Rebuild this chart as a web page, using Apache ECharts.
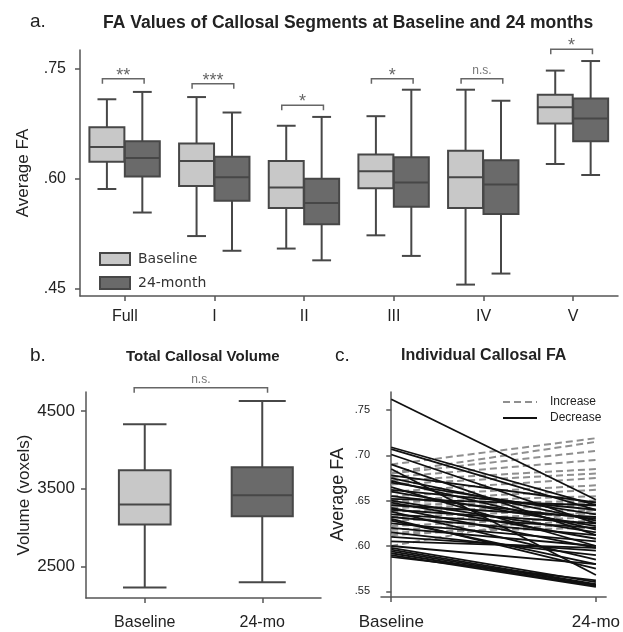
<!DOCTYPE html>
<html><head><meta charset="utf-8">
<script src="https://cdn.jsdelivr.net/npm/echarts@6/dist/echarts.min.js"></script>
<style>html,body{margin:0;padding:0;background:#fff}#c{width:623px;height:632px}</style>
</head><body><div id="c"></div>
<script>
// ---------- DATA ----------
const segmentCats = ['Full', 'I', 'II', 'III', 'IV', 'V'];
// [min, Q1, median, Q3, max]
const baselineFA = [
  [0.586, 0.623, 0.643, 0.670, 0.708],
  [0.522, 0.590, 0.624, 0.648, 0.711],
  [0.505, 0.560, 0.588, 0.624, 0.672],
  [0.523, 0.587, 0.610, 0.633, 0.685],
  [0.456, 0.560, 0.602, 0.638, 0.721],
  [0.620, 0.675, 0.697, 0.714, 0.747]
];
const month24FA = [
  [0.554, 0.603, 0.628, 0.651, 0.718],
  [0.502, 0.570, 0.602, 0.630, 0.690],
  [0.489, 0.538, 0.567, 0.600, 0.684],
  [0.495, 0.562, 0.595, 0.629, 0.721],
  [0.471, 0.552, 0.592, 0.625, 0.706],
  [0.605, 0.651, 0.682, 0.709, 0.760]
];
const segmentSigLabels = ['**', '***', '*', '*', 'n.s.', '*'];
const segmentSigHeights = [0.736, 0.729, 0.700, 0.736, 0.736, 0.776];
const faTicksA = [0.45, 0.60, 0.75];

const volumeCats = ['Baseline', '24-mo'];
const volumeBaseline = [2227, 3038, 3295, 3737, 4329];
const volume24mo = [2295, 3145, 3415, 3775, 4629];
const volumeSigLabel = 'n.s.';
const volumeSigHeight = 4800;
const volumeTicks = [2500, 3500, 4500];

const timeLabels = ['Baseline', '24-mo'];
const faTicksC = [0.55, 0.60, 0.65, 0.70, 0.75];
// [baseline, 24-month]
const increaseFA = [
  [0.690, 0.719], [0.681, 0.715], [0.680, 0.705], [0.676, 0.695], [0.672, 0.685],
  [0.668, 0.680], [0.660, 0.675], [0.655, 0.667], [0.650, 0.662], [0.648, 0.655],
  [0.645, 0.650], [0.642, 0.648], [0.638, 0.645], [0.632, 0.640], [0.628, 0.636],
  [0.622, 0.632], [0.618, 0.628], [0.612, 0.625], [0.600, 0.640], [0.615, 0.620]
];
const decreaseFA = [
  [0.762, 0.651], [0.709, 0.645], [0.707, 0.640], [0.701, 0.625], [0.690, 0.612],
  [0.685, 0.568], [0.678, 0.648], [0.675, 0.628], [0.672, 0.618], [0.670, 0.635],
  [0.665, 0.600], [0.662, 0.640], [0.660, 0.622], [0.655, 0.630], [0.652, 0.645],
  [0.650, 0.615], [0.648, 0.608], [0.645, 0.632], [0.642, 0.598], [0.640, 0.625],
  [0.638, 0.585], [0.635, 0.620], [0.632, 0.612], [0.630, 0.575], [0.628, 0.580],
  [0.625, 0.605], [0.620, 0.600], [0.615, 0.590], [0.610, 0.595], [0.605, 0.598],
  [0.600, 0.580], [0.598, 0.560], [0.596, 0.558], [0.594, 0.557], [0.592, 0.556],
  [0.590, 0.555], [0.588, 0.562]
];

// ---------- STYLE ----------
const FONT = "'Liberation Sans', Arial, sans-serif";
const AXIS = '#555';
const LIGHT = '#c8c8c8';
const DARK = '#6a6a6a';
const EDGE = '#474747';
const fmtFA = v => v.toFixed(2).replace(/^0/, '');

function boxRenderer(offsetFrac, widthFrac, capFrac, fill) {
  return function (params, api) {
    const cat = api.value(0);
    const band = api.size([1, 0])[0];
    const cx = api.coord([cat, api.value(3)])[0] + offsetFrac * band;
    const w = band * widthFrac, cap = band * capFrac;
    const yMin = api.coord([cat, api.value(1)])[1];
    const yQ1 = api.coord([cat, api.value(2)])[1];
    const yMed = api.coord([cat, api.value(3)])[1];
    const yQ3 = api.coord([cat, api.value(4)])[1];
    const yMax = api.coord([cat, api.value(5)])[1];
    const ls = { stroke: EDGE, lineWidth: 2, fill: null };
    return {
      type: 'group', children: [
        { type: 'line', shape: { x1: cx, y1: yMax, x2: cx, y2: yQ3 }, style: ls },
        { type: 'line', shape: { x1: cx, y1: yQ1, x2: cx, y2: yMin }, style: ls },
        { type: 'line', shape: { x1: cx - cap / 2, y1: yMax, x2: cx + cap / 2, y2: yMax }, style: ls },
        { type: 'line', shape: { x1: cx - cap / 2, y1: yMin, x2: cx + cap / 2, y2: yMin }, style: ls },
        { type: 'rect', shape: { x: cx - w / 2, y: yQ3, width: w, height: yQ1 - yQ3 }, style: { fill: fill, stroke: EDGE, lineWidth: 2 } },
        { type: 'line', shape: { x1: cx - w / 2, y1: yMed, x2: cx + w / 2, y2: yMed }, style: ls }
      ]
    };
  };
}

function bracketRenderer(leftFrac, rightFrac, labels) {
  return function (params, api) {
    const c0 = api.value(0), c1 = api.value(1);
    const band = api.size([1, 0])[0];
    const p0 = api.coord([c0, api.value(2)]);
    const p1 = api.coord([c1, api.value(2)]);
    const x1 = p0[0] + leftFrac * band, x2 = p1[0] + rightFrac * band, y = p0[1];
    const ls = { stroke: '#666', lineWidth: 1.5, fill: null };
    const label = labels[params.dataIndex];
    const isStar = label.indexOf('*') >= 0;
    return {
      type: 'group', children: [
        { type: 'polyline', shape: { points: [[x1, y + 5], [x1, y], [x2, y], [x2, y + 5]] }, style: ls },
        { type: 'text', style: { text: label, x: (x1 + x2) / 2, y: isStar ? y + 6 : y - 2, align: 'center', verticalAlign: 'bottom',
          fill: isStar ? '#666' : '#777', font: (isStar ? 18 : 12) + 'px ' + FONT } }
      ]
    };
  };
}

const boxData = arr => arr.map((r, i) => [i].concat(r));

const series = [
  { type: 'custom', name: 'Baseline', xAxisIndex: 0, yAxisIndex: 0, itemStyle: { color: LIGHT, borderColor: EDGE, borderWidth: 2 },
    renderItem: boxRenderer(-0.2, 0.39, 0.21, LIGHT), encode: { x: 0, y: [1, 2, 3, 4, 5] }, data: boxData(baselineFA), silent: true },
  { type: 'custom', name: '24-month', xAxisIndex: 0, yAxisIndex: 0, itemStyle: { color: DARK, borderColor: EDGE, borderWidth: 2 },
    renderItem: boxRenderer(0.195, 0.39, 0.21, DARK), encode: { x: 0, y: [1, 2, 3, 4, 5] }, data: boxData(month24FA), silent: true },
  { type: 'custom', name: 'segSig', xAxisIndex: 0, yAxisIndex: 0, clip: false, silent: true,
    renderItem: bracketRenderer(-0.25, 0.215, segmentSigLabels), encode: { x: [0, 1], y: 2 },
    data: segmentSigHeights.map((h, i) => [i, i, h]) },
  { type: 'custom', name: 'volBase', xAxisIndex: 1, yAxisIndex: 1, silent: true,
    renderItem: boxRenderer(0, 0.44, 0.37, LIGHT), encode: { x: 0, y: [1, 2, 3, 4, 5] }, data: [[0].concat(volumeBaseline)] },
  { type: 'custom', name: 'vol24', xAxisIndex: 1, yAxisIndex: 1, silent: true,
    renderItem: boxRenderer(0, 0.52, 0.4, DARK), encode: { x: 0, y: [1, 2, 3, 4, 5] }, data: [[1].concat(volume24mo)] },
  { type: 'custom', name: 'volSig', xAxisIndex: 1, yAxisIndex: 1, clip: false, silent: true,
    renderItem: bracketRenderer(-0.09, 0.045, [volumeSigLabel]), encode: { x: [0, 1], y: 2 },
    data: [[0, 1, volumeSigHeight]] }
];
increaseFA.forEach(p => series.push({
  type: 'line', name: 'Increase', xAxisIndex: 2, yAxisIndex: 2, symbol: 'none', silent: true, z: 2,
  lineStyle: { color: '#8f8f8f', width: 2, type: [7, 4] }, itemStyle: { color: '#8f8f8f' },
  data: [[0, p[0]], [1, p[1]]]
}));
decreaseFA.forEach(p => series.push({
  type: 'line', name: 'Decrease', xAxisIndex: 2, yAxisIndex: 2, symbol: 'none', silent: true, z: 3,
  lineStyle: { color: '#111', width: 1.8 }, itemStyle: { color: '#111' },
  data: [[0, p[0]], [1, p[1]]]
}));

const axisLine = { show: true, lineStyle: { color: AXIS, width: 1.5 } };
const axisTick = { show: true, length: 5, lineStyle: { color: AXIS, width: 1.5 } };

const option = {
  animation: false,
  title: [
    { text: 'a.', left: 25, top: 7, textStyle: { fontFamily: FONT, fontSize: 19, fontWeight: 'normal', color: '#222' } },
    { text: 'FA Values of Callosal Segments at Baseline and 24 months', left: 98, top: 9, textStyle: { fontFamily: FONT, fontSize: 17.5, fontWeight: 'bold', color: '#222' } },
    { text: 'b.', left: 25, top: 341, textStyle: { fontFamily: FONT, fontSize: 19, fontWeight: 'normal', color: '#222' } },
    { text: 'Total Callosal Volume', left: 121, top: 344, textStyle: { fontFamily: FONT, fontSize: 15, fontWeight: 'bold', color: '#222' } },
    { text: 'c.', left: 330, top: 341, textStyle: { fontFamily: FONT, fontSize: 19, fontWeight: 'normal', color: '#222' } },
    { text: 'Individual Callosal FA', left: 396, top: 343, textStyle: { fontFamily: FONT, fontSize: 16, fontWeight: 'bold', color: '#222' } }
  ],
  legend: [
    { data: ['Baseline', '24-month'], orient: 'vertical', left: 94, top: 247, itemWidth: 30, itemHeight: 12, itemGap: 10,
      icon: 'rect', textStyle: { fontFamily: "'DejaVu Sans', sans-serif", fontSize: 14, color: '#333', padding: [0, 0, 0, 3] }, selectedMode: false },
    { data: ['Increase', 'Decrease'], orient: 'vertical', left: 497, top: 391, itemWidth: 34, itemHeight: 10, itemGap: 4,
      itemStyle: { opacity: 0 },
      textStyle: { fontFamily: FONT, fontSize: 12, color: '#222', padding: [0, 0, 0, 8] }, selectedMode: false }
  ],
  grid: [
    { left: 80, right: 5, top: 50, bottom: 336 },
    { left: 86, right: 302, top: 392, bottom: 34 },
    { left: 381, right: 15, top: 392, bottom: 35 }
  ],
  xAxis: [
    { type: 'category', gridIndex: 0, data: segmentCats, axisLine, axisTick: Object.assign({ alignWithLabel: true }, axisTick),
      axisLabel: { fontFamily: FONT, fontSize: 16, color: '#222', margin: 13 } },
    { type: 'category', gridIndex: 1, data: volumeCats, axisLine, axisTick: Object.assign({ alignWithLabel: true }, axisTick),
      axisLabel: { fontFamily: FONT, fontSize: 16, color: '#222', margin: 17 } },
    { type: 'value', gridIndex: 2, min: -0.05, max: 1.05, axisLine, splitLine: { show: false },
      axisTick: Object.assign({ customValues: [0, 1] }, axisTick),
      axisLabel: { customValues: [0, 1], formatter: v => timeLabels[Math.round(v)], fontFamily: FONT, fontSize: 17, color: '#222', margin: 17 } }
  ],
  yAxis: [
    { type: 'value', gridIndex: 0, min: 0.4405, max: 0.775, axisLine, splitLine: { show: false },
      axisTick: Object.assign({ customValues: faTicksA }, axisTick),
      axisLabel: { customValues: faTicksA, formatter: fmtFA, fontFamily: FONT, fontSize: 16, color: '#222', margin: 14 },
      name: 'Average FA', nameLocation: 'middle', nameGap: 48, nameTextStyle: { fontFamily: FONT, fontSize: 17, color: '#222' } },
    { type: 'value', gridIndex: 1, min: 2092, max: 4745, axisLine, splitLine: { show: false },
      axisTick: Object.assign({ customValues: volumeTicks }, axisTick),
      axisLabel: { customValues: volumeTicks, formatter: v => String(v), fontFamily: FONT, fontSize: 17, color: '#222', margin: 11 },
      name: 'Volume (voxels)', nameLocation: 'middle', nameGap: 53, nameTextStyle: { fontFamily: FONT, fontSize: 17, color: '#222' } },
    { type: 'value', gridIndex: 2, min: 0.5437, max: 0.770, axisLine, splitLine: { show: false },
      axisTick: Object.assign({ customValues: faTicksC }, axisTick),
      axisLabel: { customValues: faTicksC, formatter: fmtFA, fontFamily: FONT, fontSize: 11, color: '#222', margin: 11 },
      name: 'Average FA', nameLocation: 'middle', nameGap: 34, nameTextStyle: { fontFamily: FONT, fontSize: 18, color: '#222' } }
  ],
  series
};
const chart = echarts.init(document.getElementById('c'), null, { renderer: 'canvas' });
chart.setOption(option);
</script></body></html>
